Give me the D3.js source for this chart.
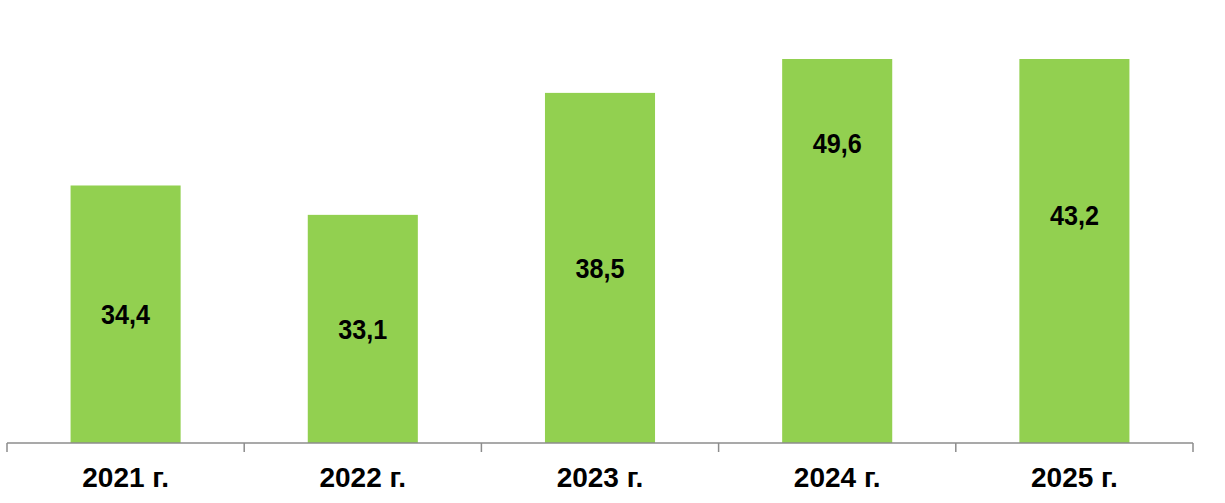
<!DOCTYPE html>
<html>
<head>
<meta charset="utf-8">
<script src="https://d3js.org/d3.v7.min.js"></script>
<style>
  body { margin: 0; background: #fff; }
  svg { display: block; }
  .lbl { font-family: "Liberation Sans", Arial, sans-serif; font-weight: bold; fill: #000; }
</style>
</head>
<body>
<div id="chart"></div>
<script>
// data
var years = ["2021 г.", "2022 г.", "2023 г.", "2024 г.", "2025 г."];
var values = [34.4, 33.1, 38.5, 49.6, 43.2];
// value axis is cut: bars above the max are clipped at the plot top
var yDomain = [23, 40];

var W = 1225, H = 503;
var plotLeft = 7, plotRight = 1193, plotTop = 59, base = 443;

var svg = d3.select("#chart").append("svg")
    .attr("width", W)
    .attr("height", H);

var x = d3.scaleBand()
    .domain(years)
    .range([plotLeft, plotRight])
    .paddingInner(0.536)
    .paddingOuter(0.268);

var cat = d3.scaleBand()
    .domain(years)
    .range([plotLeft, plotRight]);

var y = d3.scaleLinear()
    .domain(yDomain)
    .range([base, plotTop]);

svg.append("clipPath").attr("id", "plot")
  .append("rect")
    .attr("x", plotLeft).attr("y", plotTop)
    .attr("width", plotRight - plotLeft).attr("height", base - plotTop);

svg.append("g")
    .attr("clip-path", "url(#plot)")
  .selectAll("rect")
  .data(values)
  .enter().append("rect")
    .attr("x", function(d, i) { return x(years[i]); })
    .attr("width", x.bandwidth())
    .attr("y", function(d) { return y(d); })
    .attr("height", function(d) { return base - y(d); })
    .attr("fill", "#92D050");

// value labels, centred on the full (unclipped) bar
svg.append("g").selectAll("text")
  .data(values)
  .enter().append("text")
    .attr("class", "lbl")
    .attr("font-size", 28)
    .attr("text-anchor", "middle")
    .attr("dy", "0.36em")
    .attr("transform", function(d, i) {
      var cx = x(years[i]) + x.bandwidth() / 2;
      var cy = (y(d) + base) / 2;
      return "translate(" + cx + "," + cy + ") scale(0.9,1)";
    })
    .text(function(d) { return String(d).replace(".", ","); });

// category axis with ticks between categories
var axis = svg.append("g").attr("transform", "translate(0," + base + ")");
axis.append("line")
    .attr("x1", plotLeft).attr("x2", plotRight)
    .attr("stroke", "#8c8c8c").attr("stroke-width", 1.5);

var edges = years.map(function(c) { return cat(c); }).concat([plotRight]);
axis.selectAll(".tick")
  .data(edges)
  .enter().append("line")
    .attr("x1", function(d) { return d; })
    .attr("x2", function(d) { return d; })
    .attr("y1", 0).attr("y2", 9)
    .attr("stroke", "#8c8c8c").attr("stroke-width", 1.5);

axis.selectAll("text.year")
  .data(years)
  .enter().append("text")
    .attr("class", "lbl year")
    .attr("font-size", 28)
    .attr("text-anchor", "middle")
    .attr("transform", function(d) {
      return "translate(" + (cat(d) + cat.bandwidth() / 2) + ",44)";
    })
    .text(function(d) { return d; });
</script>
</body>
</html>
